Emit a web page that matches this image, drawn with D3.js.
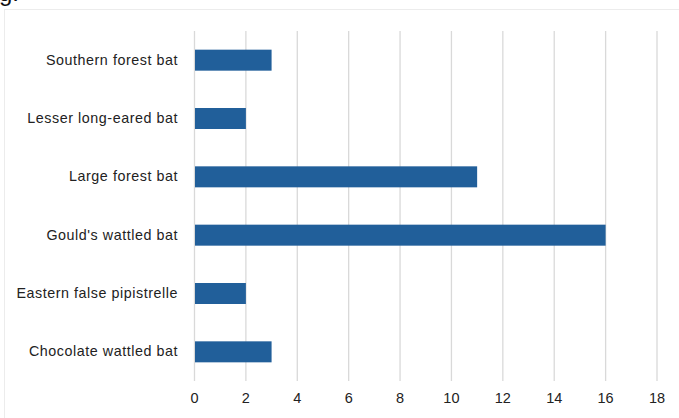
<!DOCTYPE html>
<html>
<head>
<meta charset="utf-8">
<script src="https://cdn.jsdelivr.net/npm/d3@7"></script>
<style>
  body { margin: 0; background: #fff; }
  svg { display: block; font-family: "Liberation Sans", Arial, sans-serif; }
</style>
</head>
<body>
<svg id="chart" width="679" height="418"></svg>
<script>
// data (top to bottom)
var categories = ["Southern forest bat", "Lesser long-eared bat", "Large forest bat",
                  "Gould's wattled bat", "Eastern false pipistrelle", "Chocolate wattled bat"];
var counts = [3, 2, 11, 16, 2, 3];
var xTicks = [0, 2, 4, 6, 8, 10, 12, 14, 16, 18];

var svg = d3.select("#chart");

// leftover text from the page above the chart
svg.append("text")
  .attr("x", -1).attr("y", 1)
  .attr("font-size", 24)
  .attr("fill", "#111")
  .text("g.");

// chart frame
svg.append("rect")
  .attr("x", 4.5).attr("y", 9.5)
  .attr("width", 700).attr("height", 420)
  .attr("fill", "none")
  .attr("stroke", "#ececec");

var x = d3.scaleLinear().domain([0, 18]).range([194.5, 657]);
var y = d3.scaleBand().domain(categories).range([31, 381]).paddingInner(0.64).paddingOuter(0.32);

// vertical gridlines
svg.append("g").selectAll("line")
  .data(xTicks)
  .enter().append("line")
  .attr("x1", function(d) { return x(d); })
  .attr("x2", function(d) { return x(d); })
  .attr("y1", 31).attr("y2", 381)
  .attr("stroke", "#d9d9d9")
  .attr("stroke-width", 1.3);

// bars
svg.append("g").selectAll("rect")
  .data(counts)
  .enter().append("rect")
  .attr("x", x(0) + 0.5)
  .attr("y", function(d, i) { return y(categories[i]); })
  .attr("width", function(d) { return x(d) - x(0) - 0.5; })
  .attr("height", y.bandwidth())
  .attr("fill", "#215f9a");

// x tick labels
svg.append("g").selectAll("text")
  .data(xTicks)
  .enter().append("text")
  .attr("x", function(d) { return x(d); })
  .attr("y", 403)
  .attr("text-anchor", "middle")
  .attr("font-size", 14.5)
  .attr("fill", "#222")
  .text(function(d) { return d; });

// category labels
svg.append("g").selectAll("text")
  .data(categories)
  .enter().append("text")
  .attr("x", 178)
  .attr("y", function(d) { return y(d) + y.bandwidth() / 2 + 4.5; })
  .attr("text-anchor", "end")
  .attr("font-size", 14.3)
  .attr("letter-spacing", 0.55)
  .attr("fill", "#222")
  .text(function(d) { return d; });
</script>
</body>
</html>
